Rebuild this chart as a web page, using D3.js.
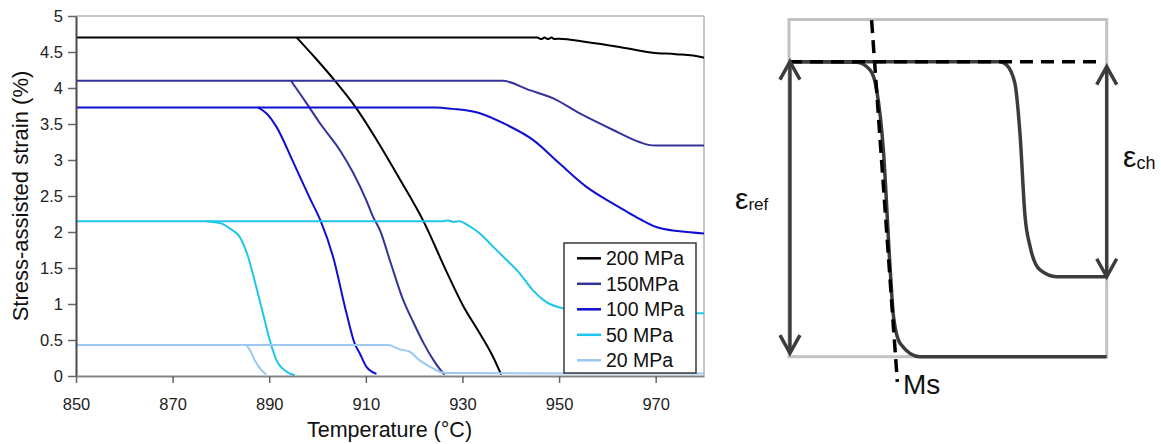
<!DOCTYPE html>
<html><head><meta charset="utf-8">
<script src="https://cdn.jsdelivr.net/npm/d3@7"></script>
<style>
body{margin:0;background:#fff}
svg{display:block;font-family:"Liberation Sans",Arial,sans-serif}
</style>
</head><body>
<svg id="c" width="1161" height="444"></svg>
<script>
// ---------- Left chart data ----------
const seriesNames = ["200 MPa","150MPa","100 MPa","50 MPa","20 MPa"];
const seriesColors = ["#000000","#33339a","#0f0fd2","#1ec6ec","#9cc8f2"];
const xTicks = [850,870,890,910,930,950,970];
const yTicks = [0,0.5,1,1.5,2,2.5,3,3.5,4,4.5,5];

// plateau / high-temperature branch  [temperature °C, strain %]
const plateau200 = [[850,4.70],[945.5,4.70],[946.3,4.68],[947,4.70],[947.7,4.68],[948.4,4.70],[949.1,4.68],[950,4.685],[955.6,4.64],[962.5,4.57],[969.4,4.49],[974.2,4.47],[979.4,4.43],[980,4.42]];
const plateau150 = [[850,4.10],[938.3,4.10],[943.9,3.97],[948.7,3.86],[954.2,3.65],[961.1,3.42],[966.6,3.25],[968.5,3.21],[970.1,3.20],[980,3.20]];
const plateau100 = [[850,3.73],[924.3,3.73],[928,3.71],[933.6,3.65],[939.1,3.49],[944.6,3.28],[950.1,2.95],[955.6,2.63],[961,2.40],[964.6,2.26],[967,2.17],[970.1,2.07],[975,2.01],[980,1.98]];
const plateau50  = [[850,2.15],[926,2.15],[927,2.16],[928.2,2.14],[929.4,2.15],[931,2.10],[933.6,1.98],[936,1.82],[938.4,1.66],[941.8,1.43],[944.6,1.19],[947.3,1.03],[950.8,0.94],[955,0.90],[965,0.88],[980,0.87]];
const plateau20  = [[850,0.43],[914.6,0.43],[917,0.37],[919,0.34],[921.1,0.22],[923.2,0.13],[925.3,0.06],[926.7,0.04],[980,0.035]];

// transformation (drop) branch
const drop200 = [[895.7,4.70],[899.5,4.42],[903.6,4.10],[907.9,3.73],[912.5,3.25],[916.8,2.76],[922,2.14],[926.7,1.45],[930.1,0.98],[933.6,0.59],[936.3,0.27],[938,0.02]];
const drop150 = [[894.5,4.10],[897.7,3.79],[900.5,3.51],[904.6,3.14],[907.4,2.82],[910.1,2.44],[911.5,2.21],[912.9,2.03],[915,1.60],[917.7,1.06],[919.8,0.75],[922,0.45],[924,0.22],[925.5,0.08],[926.3,0.02]];
const drop100 = [[887.6,3.73],[889.4,3.65],[891.5,3.46],[894.9,2.98],[898.4,2.47],[900.6,2.16],[903.2,1.66],[906,0.87],[907.7,0.45],[908.7,0.32],[910.1,0.13],[912.2,0.03]];
const drop50  = [[877,2.15],[880,2.12],[881.8,2.05],[883.9,1.93],[885.6,1.66],[887.3,1.24],[888.7,0.87],[890.1,0.50],[891.5,0.22],[893.6,0.06],[895.3,0.01]];
const drop20  = [[885.3,0.43],[886,0.36],[887,0.22],[888.4,0.08],[889.4,0.02]];

const plateaus = [plateau200,plateau150,plateau100,plateau50,plateau20];
const drops = [drop200,drop150,drop100,drop50,drop20];

// ---------- Right schematic data (normalised units) ----------
const schemBoxTop = 1.143;
const schemCurveLow  = [[0,1],[21.3,0.998],[25.5,0.972],[27.6,0.904],[29.7,0.701],[31.8,0.305],[32.9,0.136],[35,0.045],[41.2,0],[100,0]];
const schemCurveHigh = [[0,1],[66.4,1],[68.5,0.989],[71.1,0.927],[72.7,0.757],[74.3,0.475],[75.9,0.373],[79,0.294],[84.3,0.271],[100,0.271]];
const schemRefLevel = [[0,1],[97.9,1]];
const schemMsLine = [[26.0,1.141],[34.1,-0.085]];
const schemRefArrow = [[0.3,1],[0.3,0.012]];
const schemChArrow = [[100,0.983],[100,0.271]];

const svg = d3.select("#c");

// ---------- Left chart ----------
const x = d3.scaleLinear().domain([850,980]).range([76,704]);
const y = d3.scaleLinear().domain([0,5]).range([376,16]);

// frame (top and right)
svg.append("line").attr("x1",x(850)).attr("x2",x(980)).attr("y1",y(5)).attr("y2",y(5))
  .attr("stroke","#b4b4b4").attr("stroke-width",1.5);
svg.append("line").attr("x1",x(980)).attr("x2",x(980)).attr("y1",y(5)).attr("y2",y(0))
  .attr("stroke","#b4b4b4").attr("stroke-width",1.5);

const line = d3.line().x(d=>x(d[0])).y(d=>y(d[1])).curve(d3.curveMonotoneX);
const gLines = svg.append("g");
plateaus.forEach((p,i)=>{
  gLines.append("path").attr("d",line(p)).attr("fill","none")
    .attr("stroke",seriesColors[i]).attr("stroke-width",2).attr("stroke-linejoin","round");
  gLines.append("path").attr("d",line(drops[i])).attr("fill","none")
    .attr("stroke",seriesColors[i]).attr("stroke-width",2).attr("stroke-linejoin","round");
});

// axes
const yAxis = svg.append("g").attr("transform",`translate(${x(850)},0)`)
  .call(d3.axisLeft(y).tickValues(yTicks).tickSize(8).tickSizeOuter(0).tickPadding(5).tickFormat(d=>String(d)));
const xAxis = svg.append("g").attr("transform",`translate(0,${y(0)})`)
  .call(d3.axisBottom(x).tickValues(xTicks).tickSize(7).tickSizeOuter(0).tickPadding(15));
yAxis.select(".domain").attr("stroke","#4a4a4a").attr("stroke-width",2);
xAxis.select(".domain").attr("stroke","#858585").attr("stroke-width",2);
svg.selectAll(".tick line").attr("stroke","#666").attr("stroke-width",1.5);
svg.selectAll(".tick text").attr("font-size",16.5).attr("fill","#222")
  .attr("font-family","'Liberation Sans',Arial,sans-serif");

// axis titles
svg.append("text").attr("transform","translate(28,196) rotate(-90)")
  .attr("text-anchor","middle").attr("font-size",22).attr("fill","#111")
  .text("Stress-assisted strain (%)");
svg.append("text").attr("x",389.5).attr("y",437).attr("text-anchor","middle")
  .attr("font-size",21.5).attr("fill","#111").text("Temperature (°C)");

// legend
const lg = svg.append("g");
lg.append("rect").attr("x",564).attr("y",243).attr("width",132).attr("height",130)
  .attr("fill","#fff").attr("stroke","#3a3a3a").attr("stroke-width",1.5);
seriesNames.forEach((n,i)=>{
  const yy = 258.3 + i*25.5;
  lg.append("line").attr("x1",577).attr("x2",601).attr("y1",yy).attr("y2",yy)
    .attr("stroke",seriesColors[i]).attr("stroke-width",2.5);
  lg.append("text").attr("x",606).attr("y",yy+7).attr("font-size",19.5).attr("fill","#111").text(n);
});

// ---------- Right schematic ----------
const sx = d3.scaleLinear().domain([0,100]).range([789,1106.7]);
const sy = d3.scaleLinear().domain([0,1]).range([356.7,61.7]);
const sline = d3.line().x(d=>sx(d[0])).y(d=>sy(d[1]));
const scurve = d3.line().x(d=>sx(d[0])).y(d=>sy(d[1])).curve(d3.curveMonotoneX);
const dark = "#3c3c3c";

svg.append("rect").attr("x",sx(0)).attr("y",sy(schemBoxTop))
  .attr("width",sx(100)-sx(0)).attr("height",sy(0)-sy(schemBoxTop))
  .attr("fill","none").attr("stroke","#c2c2c2").attr("stroke-width",3);

[schemCurveLow,schemCurveHigh].forEach(c=>{
  svg.append("path").attr("d",scurve(c)).attr("fill","none")
    .attr("stroke",dark).attr("stroke-width",3.5).attr("stroke-linejoin","round");
});

svg.append("path").attr("d",sline(schemRefLevel)).attr("fill","none")
  .attr("stroke","#000").attr("stroke-width",3.5).attr("stroke-dasharray","13,8");
svg.append("path").attr("d",sline(schemMsLine)).attr("fill","none")
  .attr("stroke","#000").attr("stroke-width",3.5).attr("stroke-dasharray","13,7");

function dblArrow(a){
  const x0 = sx(a[0][0]), y0 = sy(a[0][1]), y1 = sy(a[1][1]);
  svg.append("line").attr("x1",x0).attr("x2",x0).attr("y1",y0).attr("y2",y1)
    .attr("stroke",dark).attr("stroke-width",3.5);
  svg.append("path").attr("d",`M${x0-10},${y0+18}L${x0},${y0}L${x0+10},${y0+18}`)
    .attr("fill","none").attr("stroke",dark).attr("stroke-width",3.5);
  svg.append("path").attr("d",`M${x0-10},${y1-18}L${x0},${y1}L${x0+10},${y1-18}`)
    .attr("fill","none").attr("stroke",dark).attr("stroke-width",3.5);
}
dblArrow(schemRefArrow);
dblArrow(schemChArrow);

const tRef = svg.append("text").attr("x",735).attr("y",208.5).attr("fill","#111");
tRef.append("tspan").attr("font-size",30).text("ε");
tRef.append("tspan").attr("font-size",17).attr("dy",1).text("ref");
const tCh = svg.append("text").attr("x",1123).attr("y",166.7).attr("fill","#111");
tCh.append("tspan").attr("font-size",30).text("ε");
tCh.append("tspan").attr("font-size",18).attr("dy",2.6).text("ch");
svg.append("text").attr("x",903).attr("y",393.5).attr("font-size",28).attr("fill","#111").text("Ms");
</script>
</body></html>
